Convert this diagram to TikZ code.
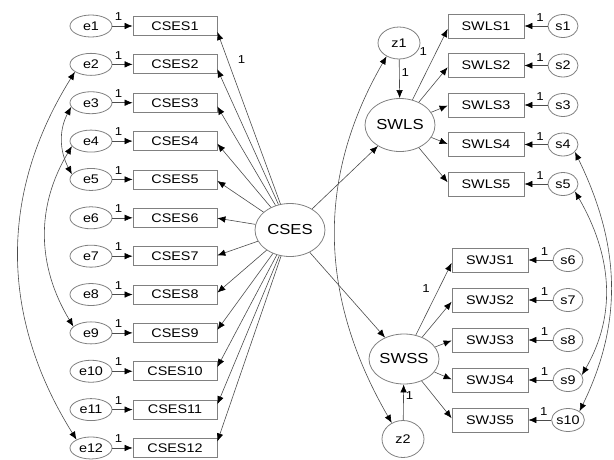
\documentclass[tikz,border=0pt]{standalone}
\usepackage{fontspec}
\setmainfont{Liberation Sans}[FakeStretch=1.15]
\usetikzlibrary{shapes.geometric,arrows.meta,calc}
\definecolor{nodeline}{gray}{0.5}
\definecolor{pathline}{gray}{0.3}
\tikzset{
  obs/.style={draw=nodeline,line width=0.8pt,rectangle,minimum width=84pt,minimum height=19pt,inner sep=0pt,font=\fontsize{12.5}{14}\selectfont},
  obsr/.style={obs,minimum width=76pt,minimum height=24pt},
  err/.style={draw=nodeline,line width=0.8pt,ellipse,minimum width=42pt,minimum height=22pt,inner sep=0pt,font=\fontsize{12.5}{14}\selectfont},
  res/.style={err,minimum width=30pt,minimum height=23pt},
  dist/.style={err,minimum width=42pt,minimum height=35pt},
  lat/.style={draw=nodeline,line width=0.8pt,ellipse,minimum width=70pt,minimum height=53pt,inner sep=0pt,font=\fontsize{14.5}{16}\selectfont},
  reg/.style={draw=pathline,line width=0.6pt,-{Latex[black,length=8pt,width=6.5pt]}},
  cov/.style={draw=pathline,line width=0.6pt,{Latex[black,length=8pt,width=6.5pt]}-{Latex[black,length=8pt,width=6.5pt]}},
  lbl/.style={font=\fontsize{11.5}{12}\selectfont,inner sep=1pt}
}
\begin{document}
\begin{tikzpicture}[x=1pt,y=1pt]
  \useasboundingbox (0,0) rectangle (614,-459);
  % Latent variables
  \node[lat] (cses) at (290,-230) {CSES};
  \node[lat] (swls) at (400,-125) {SWLS};
  \node[lat,minimum height=50pt] (swss) at (404,-359) {SWSS};
  \node[dist,minimum height=32pt] (z1) at (399,-43) {z1};
  \node[dist,minimum height=37pt] (z2) at (403,-439) {z2};
  % CSES items
  \foreach \i in {1,...,12} {
    \pgfmathsetmacro\yy{-26-38.36*(\i-1)}
    \node[err] (e\i) at (91,\yy) {e\i};
    \node[obs] (c\i) at (175,\yy) {CSES\i};
    \draw[reg] (e\i) -- node[lbl,pos=0.3,above=4pt] {1} (c\i);
    \ifnum\i>1
      \draw[reg] (cses) -- ($(c\i.east)+(0,{-(\yy+230)*0.03})$);
    \fi
  }
  \draw[reg] (cses) -- node[lbl,pos=0.84,right=9pt] {1} ($(c1.east)+(0,-6)$);
  % SWLS items
  \foreach \j in {1,...,5} {
    \pgfmathsetmacro\yy{-26-39.5*(\j-1)}
    \node[obsr] (r\j) at (486,\yy) {SWLS\j};
    \node[res] (s\j) at (563,\yy) {s\j};
    \draw[reg] (s\j) -- node[lbl,pos=0.33,above=3pt] {1} (r\j);
    \ifnum\j>1
      \draw[reg] (swls) -- ($(r\j.west)+(0,{-(\yy+125)*0.03})$);
    \fi
  }
  \draw[reg] (swls) -- node[lbl,pos=0.68,left=8pt] {1} ($(r1.west)+(0,-3)$);
  % SWJS items
  \foreach \j [evaluate=\j as \k using int(\j+5)] in {1,...,5} {
    \pgfmathsetmacro\yy{-260-40*(\j-1)}
    \node[obsr] (w\j) at (490,\yy) {SWJS\j};
    \node[res] (s\k) at (568,\yy) {s\k};
    \draw[reg] (s\k) -- node[lbl,pos=0.33,above=3pt] {1} (w\j);
    \ifnum\j>1
      \draw[reg] (swss) -- ($(w\j.west)+(0,{-(\yy+359)*0.03})$);
    \fi
  }
  \draw[reg] (swss) -- node[lbl,pos=0.65,left=8pt] {1} ($(w1.west)+(0,-3)$);
  % Structural paths
  \draw[reg] (cses) -- (swls);
  \draw[reg] (cses) -- (swss);
  \draw[reg] (z1) -- node[lbl,pos=0.35,right=1pt] {1} (swls);
  \draw[reg] (z2) -- node[lbl,pos=0.7,right=1pt] {1} (swss);
  % Covariances
  \draw[cov] (e2.205) to[out=238,in=122] (e12.150);
  \draw[cov] (e4.195) to[out=239,in=121] (e9.160);
  \draw[cov] (e3.192) to[out=242,in=118] (e5.165);
  \draw[cov] (z1.227) to[out=240,in=120] (z2.125);
  \draw[cov] (s4.328) to[out=296,in=64] (s10.37);
  \draw[cov] (s5.328) to[out=300,in=60] (s9.20);
\end{tikzpicture}
\end{document}
